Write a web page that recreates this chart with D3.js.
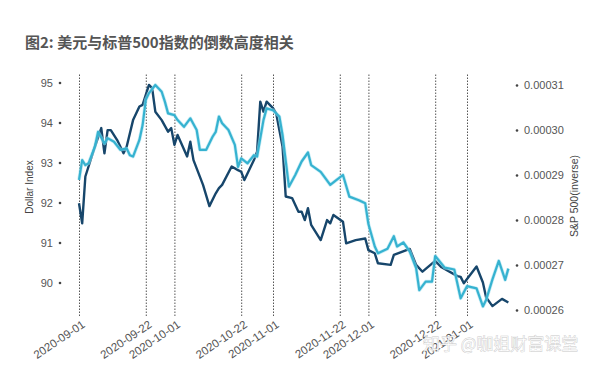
<!DOCTYPE html>
<html>
<head>
<meta charset="utf-8">
<script src="https://cdn.jsdelivr.net/npm/d3@7"></script>
<style>
  body { margin: 0; background: #fff; }
  svg { display: block; font-family: 'Liberation Sans', Arial, sans-serif; }
</style>
</head>
<body>
<svg id="chart" width="600" height="368"></svg>
<script>
// Data
const dollarDates = ['2020-09-01','2020-09-02','2020-09-03','2020-09-04','2020-09-06','2020-09-08','2020-09-09','2020-09-10','2020-09-11','2020-09-13',
  '2020-09-15','2020-09-16','2020-09-18','2020-09-20','2020-09-21','2020-09-23','2020-09-24','2020-09-25','2020-09-27','2020-09-29',
  '2020-09-30','2020-10-01','2020-10-02','2020-10-05','2020-10-06','2020-10-07','2020-10-10','2020-10-12','2020-10-14','2020-10-15',
  '2020-10-16','2020-10-19','2020-10-21','2020-10-22','2020-10-23','2020-10-26','2020-10-27','2020-10-28','2020-10-29','2020-10-30',
  '2020-11-01','2020-11-02','2020-11-03','2020-11-04','2020-11-05','2020-11-07','2020-11-09','2020-11-10','2020-11-11','2020-11-12',
  '2020-11-13','2020-11-16','2020-11-18','2020-11-19','2020-11-20','2020-11-23','2020-11-24','2020-11-27','2020-11-30','2020-12-01',
  '2020-12-03','2020-12-04','2020-12-08','2020-12-09','2020-12-14','2020-12-16','2020-12-18','2020-12-22','2020-12-24','2020-12-29',
  '2020-12-30','2020-12-31','2021-01-04','2021-01-06','2021-01-07','2021-01-09','2021-01-12','2021-01-14']
const dollarIndex = [91.98, 91.48, 92.65, 92.90, 93.40, 93.86, 93.23, 93.81, 93.81, 93.56,
  93.23, 93.40, 94.06, 94.40, 94.44, 94.94, 94.86, 94.27, 94.06, 93.77,
  93.86, 93.44, 93.69, 93.15, 93.52, 93.06, 92.44, 91.91, 92.23, 92.36,
  92.44, 92.90, 92.81, 92.77, 92.56, 93.06, 93.27, 94.52, 94.27, 94.52,
  94.36, 94.23, 93.81, 93.40, 92.15, 92.11, 91.77, 91.77, 91.56, 91.86,
  91.44, 91.06, 91.56, 91.48, 91.69, 91.52, 90.98, 91.06, 91.10, 90.81,
  90.73, 90.48, 90.44, 90.69, 90.84, 90.44, 90.27, 90.54, 90.38, 90.16,
  90.14, 89.98, 90.40, 90.00, 89.63, 89.41, 89.59, 89.50]

const spDates = ['2020-09-01','2020-09-02','2020-09-03','2020-09-04','2020-09-06','2020-09-07','2020-09-09','2020-09-10','2020-09-12','2020-09-14',
  '2020-09-16','2020-09-17','2020-09-18','2020-09-20','2020-09-21','2020-09-22','2020-09-23','2020-09-25','2020-09-27','2020-09-28',
  '2020-09-29','2020-10-01','2020-10-02','2020-10-04','2020-10-06','2020-10-08','2020-10-09','2020-10-11','2020-10-13','2020-10-14',
  '2020-10-15','2020-10-16','2020-10-18','2020-10-20','2020-10-21','2020-10-22','2020-10-24','2020-10-26','2020-10-27','2020-10-29',
  '2020-10-30','2020-11-01','2020-11-03','2020-11-04','2020-11-06','2020-11-08','2020-11-10','2020-11-12','2020-11-13','2020-11-16',
  '2020-11-19','2020-11-21','2020-11-23','2020-11-25','2020-11-28','2020-11-30','2020-12-01','2020-12-03','2020-12-04','2020-12-07',
  '2020-12-09','2020-12-10','2020-12-12','2020-12-14','2020-12-16','2020-12-17','2020-12-19','2020-12-21','2020-12-22','2020-12-25',
  '2020-12-28','2020-12-30','2021-01-01','2021-01-04','2021-01-06','2021-01-07','2021-01-09','2021-01-11','2021-01-13','2021-01-14']
const spInverse = [0.0002889, 0.0002933, 0.0002922, 0.0002926, 0.0002963, 0.0002996, 0.0002970, 0.0002982, 0.0002974, 0.0002956,
  0.0002959, 0.0002944, 0.0002941, 0.0002978, 0.0003011, 0.0003067, 0.0003082, 0.0003100, 0.0003085, 0.0003063,
  0.0003037, 0.0003033, 0.0003022, 0.0003007, 0.0003026, 0.0003000, 0.0002956, 0.0002956, 0.0002985, 0.0002996,
  0.0003030, 0.0003015, 0.0003000, 0.0002967, 0.0002918, 0.0002937, 0.0002926, 0.0002944, 0.0002941, 0.0003022,
  0.0003048, 0.0003044, 0.0003030, 0.0002989, 0.0002874, 0.0002900, 0.0002930, 0.0002950, 0.0002922, 0.0002907,
  0.0002878, 0.0002889, 0.0002900, 0.0002852, 0.0002844, 0.0002837, 0.0002791, 0.0002741, 0.0002726, 0.0002736,
  0.0002764, 0.0002741, 0.0002750, 0.0002730, 0.0002693, 0.0002644, 0.0002663, 0.0002663, 0.0002720, 0.0002694,
  0.0002690, 0.0002626, 0.0002653, 0.0002648, 0.0002608, 0.0002622, 0.0002668, 0.0002709, 0.0002667, 0.0002692]

const markerDates = ['2020-09-01','2020-09-22','2020-10-01','2020-10-22','2020-11-01','2020-11-22','2020-12-01','2020-12-22','2021-01-01']
const leftTicks = [90, 91, 92, 93, 94, 95]
const rightTicks = [0.00026, 0.00027, 0.00028, 0.00029, 0.0003, 0.00031]

const title = '图2: 美元与标普500指数的倒数高度相关'
const watermark = '知乎 @咖姐财富课堂'

// Layout
const plotLeft = 79
const plotRight = 467
const plotTop = 73
const plotBottom = 316

const parse = d3.timeParse('%Y-%m-%d')
const svg = d3.select('#chart')

const x = d3.scaleTime()
  .domain([parse('2020-09-01'), parse('2021-01-01')])
  .range([plotLeft, plotRight])
const yLeft = d3.scaleLinear().domain([90, 95]).range([282.5, 82.5])
const yRight = d3.scaleLinear().domain([0.00026, 0.00031]).range([310, 85])

// Title
svg.append('text')
  .attr('x', 25)
  .attr('y', 48)
  .attr('fill', '#555')
  .style('font-family', "'Noto Sans CJK SC', sans-serif")
  .style('font-size', '15px')
  .style('font-weight', 'bold')
  .text(title)

// Date markers (dotted verticals with slanted labels)
const xAxis = d3.axisBottom(x)
  .tickValues(markerDates.map(parse))
  .tickFormat(d3.timeFormat('%Y-%m-%d'))
  .tickSizeInner(-(plotBottom - plotTop))
  .tickSizeOuter(0)

const gx = svg.append('g')
  .attr('transform', `translate(0, ${plotBottom})`)
  .call(xAxis)
gx.select('.domain').remove()
gx.selectAll('.tick line')
  .attr('stroke', '#555')
  .attr('stroke-width', 1)
  .attr('stroke-dasharray', '1.5,1.5')
gx.selectAll('.tick text')
  .attr('x', 0)
  .attr('y', 0)
  .attr('dy', '0.35em')
  .attr('transform', 'translate(4, 7) rotate(-34)')
  .attr('text-anchor', 'end')
  .attr('fill', '#555')
  .style('font-size', '11.5px')

// Left axis
const gl = svg.append('g')
  .attr('transform', 'translate(60, 0)')
  .call(d3.axisLeft(yLeft).tickValues(leftTicks).tickSize(0).tickPadding(7).tickFormat(d3.format('d')))
gl.select('.domain').remove()
gl.selectAll('.tick text').attr('fill', '#555').style('font-size', '11px')
gl.selectAll('.tick').append('circle').attr('r', 1.3).attr('fill', '#444')

// Right axis
const gr = svg.append('g')
  .attr('transform', 'translate(517, 0)')
  .call(d3.axisRight(yRight).tickValues(rightTicks).tickSize(0).tickPadding(7).tickFormat(d3.format('.5f')))
gr.select('.domain').remove()
gr.selectAll('.tick text').attr('fill', '#555').style('font-size', '11px')
gr.selectAll('.tick').append('circle').attr('r', 1.3).attr('fill', '#444')

// Axis titles
svg.append('text')
  .attr('transform', 'translate(33, 187) rotate(-90)')
  .attr('text-anchor', 'middle')
  .attr('fill', '#444')
  .style('font-size', '10px')
  .text('Dollar Index')

svg.append('text')
  .attr('transform', 'translate(578, 196) rotate(-90)')
  .attr('text-anchor', 'middle')
  .attr('fill', '#444')
  .style('font-size', '10.5px')
  .text('S&P 500(inverse)')

// Lines
const dollarData = dollarDates.map((d, i) => ({ date: parse(d), value: dollarIndex[i] }))
const spData = spDates.map((d, i) => ({ date: parse(d), value: spInverse[i] }))

const dollarLine = d3.line().x(d => x(d.date)).y(d => yLeft(d.value))
const spLine = d3.line().x(d => x(d.date)).y(d => yRight(d.value))

svg.append('path')
  .datum(dollarData)
  .attr('d', dollarLine)
  .attr('fill', 'none')
  .attr('stroke', '#17466b')
  .attr('stroke-width', 2.4)
  .attr('stroke-linejoin', 'round')

svg.append('path')
  .datum(spData)
  .attr('d', spLine)
  .attr('fill', 'none')
  .attr('stroke', '#9fe0ee')
  .attr('stroke-width', 3.6)
  .attr('stroke-linejoin', 'round')
  .attr('opacity', 0.6)

svg.append('path')
  .datum(spData)
  .attr('d', spLine)
  .attr('fill', 'none')
  .attr('stroke', '#36b2d0')
  .attr('stroke-width', 2.2)
  .attr('stroke-linejoin', 'round')

// Watermark
svg.append('text')
  .attr('x', 423)
  .attr('y', 350)
  .attr('fill', '#ffffff')
  .attr('stroke', '#c4c4c4')
  .attr('stroke-width', 0.8)
  .attr('paint-order', 'stroke')
  .attr('opacity', 0.9)
  .style('font-family', "'Noto Sans CJK SC', sans-serif")
  .style('font-size', '17px')
  .style('font-weight', 300)
  .text(watermark)
</script>
</body>
</html>
